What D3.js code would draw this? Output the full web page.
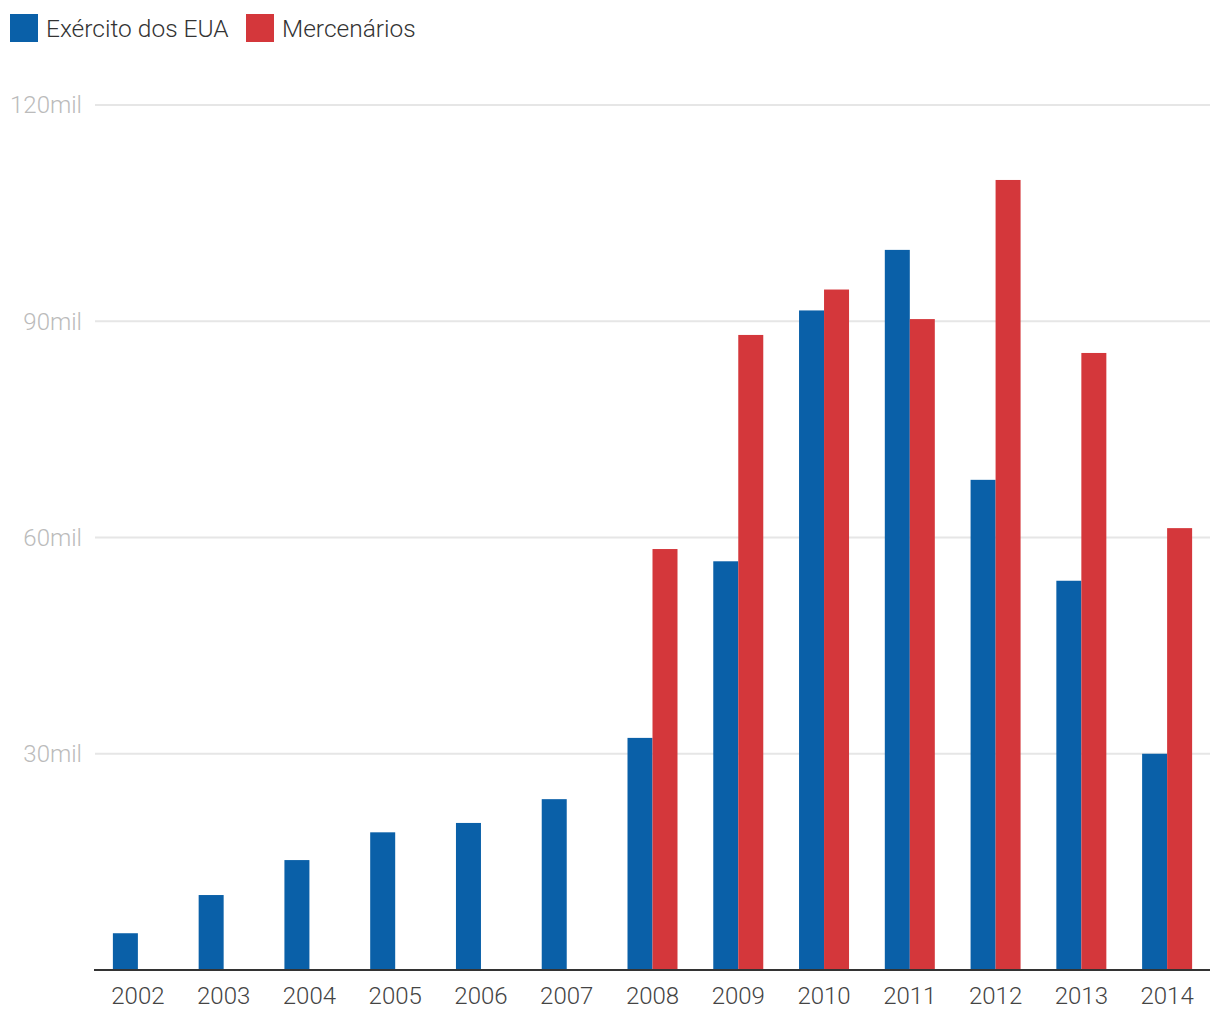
<!DOCTYPE html>
<html><head><meta charset="utf-8">
<script src="https://cdn.jsdelivr.net/npm/d3@7"></script>
<style>body{margin:0;background:#fff;}svg{display:block;font-family:Roboto,sans-serif;}</style>
</head><body>
<svg id="c" width="1220" height="1020"></svg>
<script>
const years = ["2002","2003","2004","2005","2006","2007","2008","2009","2010","2011","2012","2013","2014"];
const usArmy = [5100,10400,15250,19100,20400,23700,32200,56700,91500,99900,68000,54000,30000];
const mercenaries = [null,null,null,null,null,null,58400,88100,94400,90300,109600,85600,61300];
const yTicks = [30000,60000,90000,120000];
const seriesNames = ["Exército dos EUA","Mercenários"];
const colors = ["#0a60a8","#d4373b"];

const svg = d3.select("#c");
const x = d3.scaleBand().domain(years).range([95,1210]).padding(0);
const y = d3.scaleLinear().domain([0,120000]).range([970,105]);
const bw = 25;

// grid
svg.append("g").selectAll("line").data(yTicks).join("line")
  .attr("x1",95).attr("x2",1210).attr("y1",d=>y(d)).attr("y2",d=>y(d))
  .attr("stroke","#e6e6e6").attr("stroke-width",2);
svg.append("g").selectAll("text").data(yTicks).join("text")
  .attr("x",82).attr("y",d=>y(d)).attr("dy","0.35em").attr("text-anchor","end")
  .attr("fill","#bbbbbb").attr("font-size",24).attr("font-weight",300)
  .text(d=>(d/1000)+"mil");

// bars
const series = [usArmy, mercenaries];
series.forEach((vals,si)=>{
  svg.append("g").selectAll("rect").data(years.map((yr,i)=>({yr,v:vals[i]})).filter(d=>d.v!=null)).join("rect")
    .attr("x",d=>x(d.yr)+x.bandwidth()/2 + (si===0?-bw:0))
    .attr("width",bw)
    .attr("y",d=>y(d.v)).attr("height",d=>y(0)-y(d.v))
    .attr("fill",colors[si]);
});

// x axis
const xa = svg.append("g").attr("transform","translate(0,970)").call(d3.axisBottom(x).tickSize(0));
xa.select(".domain").attr("stroke","#333").attr("stroke-width",2).attr("d","M94,0H1210");
xa.selectAll("text").attr("y",34).attr("dy",0).attr("font-size",24).attr("font-weight",300).attr("fill","#444").attr("font-family","Roboto,sans-serif");

// legend
const leg = svg.append("g");
const lx = [10,246];
seriesNames.forEach((n,i)=>{
  leg.append("rect").attr("x",lx[i]).attr("y",14).attr("width",28).attr("height",28).attr("fill",colors[i]);
  leg.append("text").attr("x",lx[i]+36).attr("y",28).attr("dy","0.35em").attr("font-size",24.5).attr("font-weight",300).attr("fill","#333").text(n);
});
</script>
</body></html>
